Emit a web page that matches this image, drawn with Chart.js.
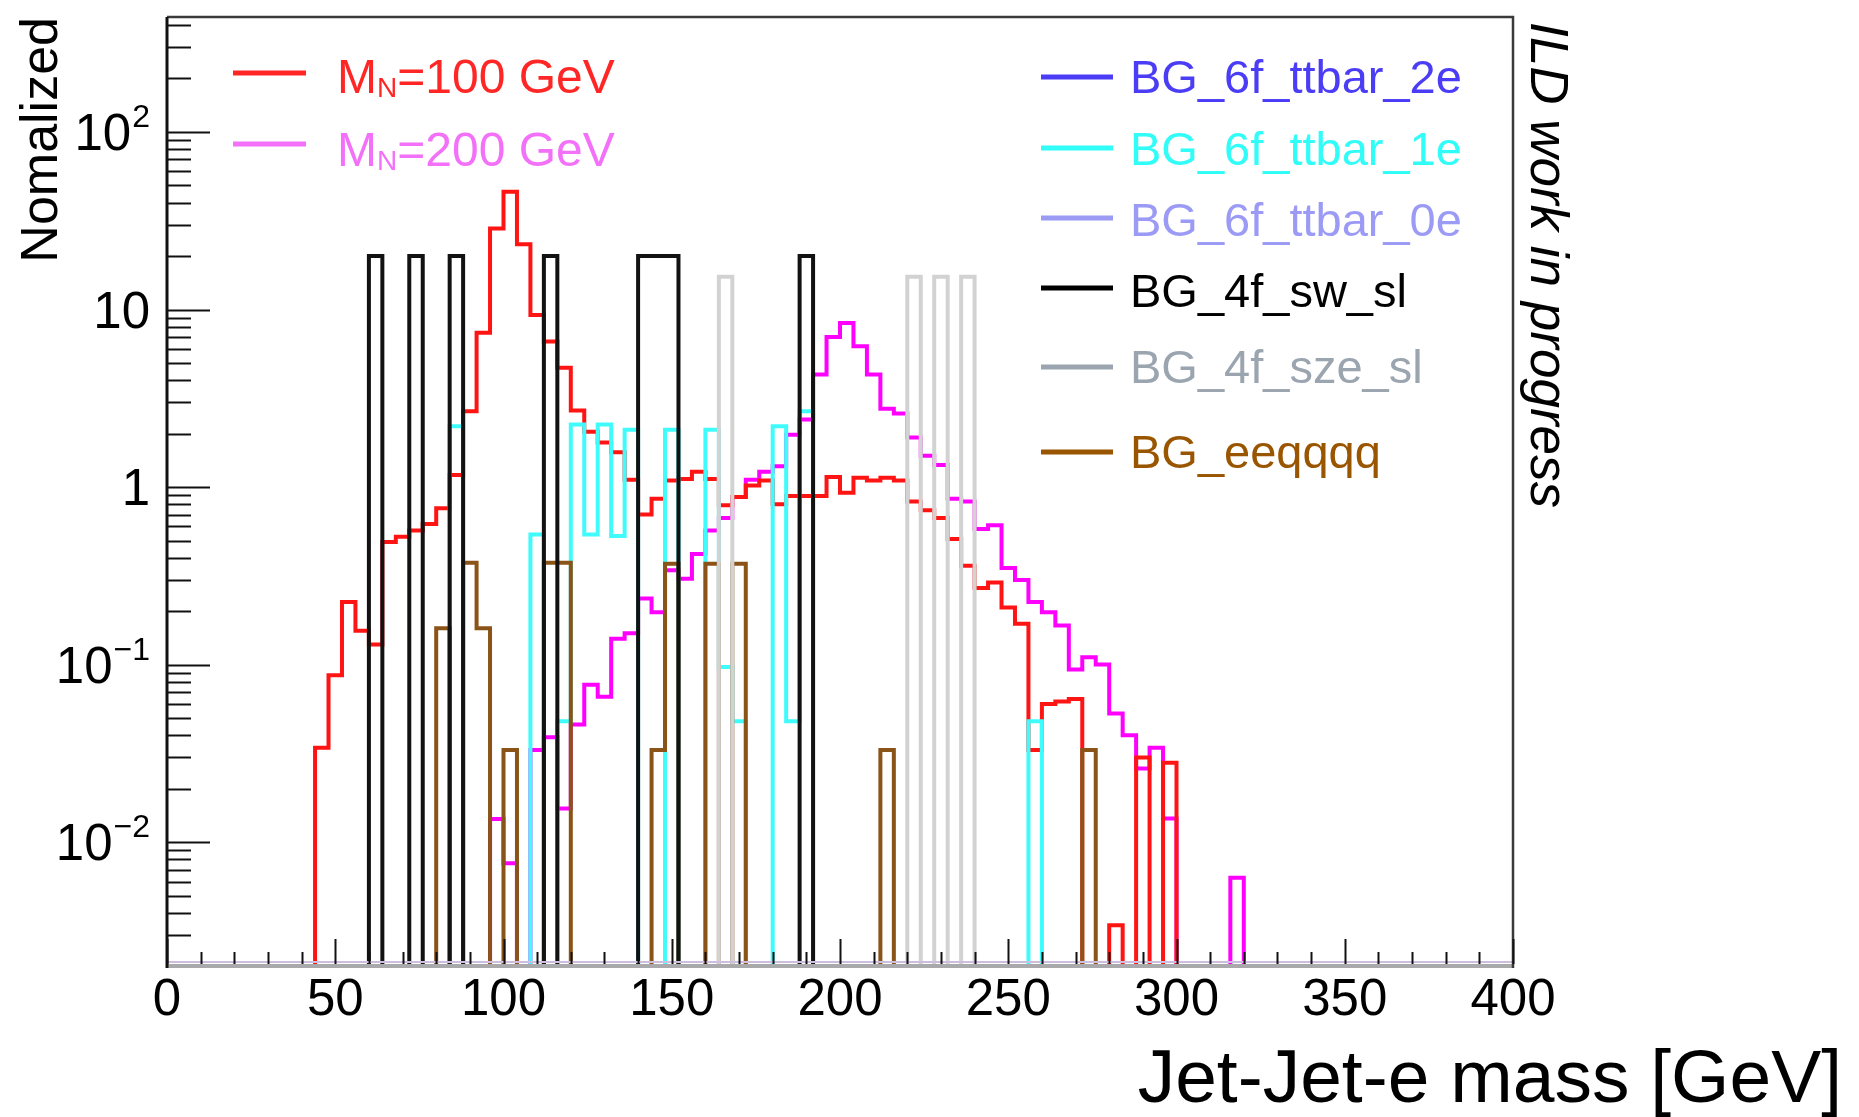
<!DOCTYPE html>
<html>
<head>
<meta charset="utf-8">
<title>Jet-Jet-e mass</title>
<script src="https://cdn.jsdelivr.net/npm/chart.js@4.4.1/dist/chart.umd.min.js"></script>
<style>
  html, body { margin: 0; padding: 0; background: #ffffff; }
  canvas { display: block; }
</style>
</head>
<body>
<canvas id="chart" width="1859" height="1117"></canvas>
<script>
// ---- histogram binning: 100 bins of 4 GeV from 0 to 400 GeV ----
const BIN_WIDTH = 4;
const X_MIN = 0;
const X_MAX = 400;
const Y_MIN = 0.00206;
const Y_MAX = 444;

// axis tick labels
const xTickValues = [0, 50, 100, 150, 200, 250, 300, 350, 400];
const xTickLabels = ['0', '50', '100', '150', '200', '250', '300', '350', '400'];
const yTickValues = [0.01, 0.1, 1, 10, 100];
const yTickBases = ['10', '10', '1', '10', '10'];
const yTickExponents = ['\u22122', '\u22121', '', '', '2'];

// ---- normalized bin contents, one entry per 4 GeV bin ----
const signal100 = [
  0, 0, 0, 0, 0, 0, 0, 0, 0, 0,
  0, 0.034, 0.087, 0.225, 0.155, 0.13, 0.49, 0.525, 0.57, 0.62,
  0.76, 1.17, 2.67, 7.4, 28.6, 46, 23.3, 9.3, 6.6, 4.7,
  2.7, 2.05, 1.78, 1.57, 1.1, 0.70, 0.86, 1.09, 1.11, 1.22,
  1.11, 0.79, 0.88, 1.02, 1.09, 0.80, 0.89, 0.89, 0.89, 1.14,
  0.93, 1.13, 1.09, 1.13, 1.09, 0.83, 0.74, 0.67, 0.51, 0.36,
  0.27, 0.29, 0.21, 0.17, 0.033, 0.06, 0.062, 0.064, 0, 0,
  0.0034, 0, 0.03, 0, 0.028, 0, 0, 0, 0, 0,
  0, 0, 0, 0, 0, 0, 0, 0, 0, 0,
  0, 0, 0, 0, 0, 0, 0, 0, 0, 0
];
const signal200 = [
  0, 0, 0, 0, 0, 0, 0, 0, 0, 0,
  0, 0, 0, 0, 0, 0, 0, 0, 0, 0,
  0, 0, 0, 0, 0.0135, 0.0076, 0, 0.033, 0.039, 0.0155,
  0.046, 0.077, 0.066, 0.14, 0.15, 0.236, 0.197, 0.34, 0.305, 0.42,
  0.57, 0.67, 0.88, 1.1, 1.22, 1.31, 1.97, 2.4, 4.3, 7.0,
  8.4, 6.2, 4.3, 2.76, 2.6, 1.9, 1.5, 1.33, 0.86, 0.83,
  0.58, 0.61, 0.35, 0.30, 0.225, 0.197, 0.166, 0.094, 0.11, 0.10,
  0.053, 0.040, 0.026, 0.034, 0.0136, 0, 0, 0, 0, 0.0063,
  0, 0, 0, 0, 0, 0, 0, 0, 0, 0,
  0, 0, 0, 0, 0, 0, 0, 0, 0, 0
];
const ttbar2e = [];
const ttbar1e = [
  0, 0, 0, 0, 0, 0, 0, 0, 0, 0,
  0, 0, 0, 0, 0, 0, 0, 0, 0, 0,
  0, 2.2, 0, 0, 0, 0, 0, 0.54, 0, 0.048,
  2.25, 0.54, 2.25, 0.53, 2.1, 0, 0, 2.1, 0, 0,
  2.1, 0.097, 0.048, 0, 0, 2.2, 0.048, 2.67, 0, 0,
  0, 0, 0, 0, 0, 0, 0, 0, 0, 0,
  0, 0, 0, 0, 0.048, 0, 0, 0, 0, 0,
  0, 0, 0, 0, 0, 0, 0, 0, 0, 0,
  0, 0, 0, 0, 0, 0, 0, 0, 0, 0,
  0, 0, 0, 0, 0, 0, 0, 0, 0, 0
];
const ttbar0e = [];
const swSl = [
  0, 0, 0, 0, 0, 0, 0, 0, 0, 0,
  0, 0, 0, 0, 0, 20, 0, 0, 20, 0,
  0, 20, 0, 0, 0, 0, 0, 0, 20, 0,
  0, 0, 0, 0, 0, 20, 20, 20, 0, 0,
  0, 0, 0, 0, 0, 0, 0, 20, 0, 0,
  0, 0, 0, 0, 0, 0, 0, 0, 0, 0,
  0, 0, 0, 0, 0, 0, 0, 0, 0, 0,
  0, 0, 0, 0, 0, 0, 0, 0, 0, 0,
  0, 0, 0, 0, 0, 0, 0, 0, 0, 0,
  0, 0, 0, 0, 0, 0, 0, 0, 0, 0
];
const szeSl = [
  0, 0, 0, 0, 0, 0, 0, 0, 0, 0,
  0, 0, 0, 0, 0, 0, 0, 0, 0, 0,
  0, 0, 0, 0, 0, 0, 0, 0, 0, 0,
  0, 0, 0, 0, 0, 0, 0, 0, 0, 0,
  0, 15.3, 0, 0, 0, 0, 0, 0, 0, 0,
  0, 0, 0, 0, 0, 15.3, 0, 15.3, 0, 15.3,
  0, 0, 0, 0, 0, 0, 0, 0, 0, 0,
  0, 0, 0, 0, 0, 0, 0, 0, 0, 0,
  0, 0, 0, 0, 0, 0, 0, 0, 0, 0,
  0, 0, 0, 0, 0, 0, 0, 0, 0, 0
];
const eeqqqq = [
  0, 0, 0, 0, 0, 0, 0, 0, 0, 0,
  0, 0, 0, 0, 0, 0, 0, 0, 0, 0,
  0.16, 0, 0.375, 0.16, 0, 0.033, 0, 0, 0.375, 0.375,
  0, 0, 0, 0, 0, 0, 0.033, 0.37, 0, 0,
  0.37, 0, 0.37, 0, 0, 0, 0, 0, 0, 0,
  0, 0, 0, 0.033, 0, 0, 0, 0, 0, 0,
  0, 0, 0, 0, 0, 0, 0, 0, 0.033, 0,
  0, 0, 0, 0, 0, 0, 0, 0, 0, 0,
  0, 0, 0, 0, 0, 0, 0, 0, 0, 0,
  0, 0, 0, 0, 0, 0, 0, 0, 0, 0
];

// Empty bins sit below the visible log range, so their outline runs off the frame.
const EMPTY_LEVEL = 1e-4;

function outline(values) {
  if (!values.length) return [];
  const pts = values.map((v, i) => ({ x: X_MIN + i * BIN_WIDTH, y: v > 0 ? v : EMPTY_LEVEL }));
  pts.push({ x: X_MIN + values.length * BIN_WIDTH, y: EMPTY_LEVEL });
  return pts;
}

// line colour, legend colour, drawing weight (higher is drawn first)
const series = [
  { label: 'MN=100 GeV',      values: signal100, color: '#ff1414', key: '#ff2626', order: 5 },
  { label: 'MN=200 GeV',      values: signal200, color: '#ff00ff', key: '#f371f8', order: 6 },
  { label: 'BG_6f_ttbar_2e',  values: ttbar2e,   color: '#4b3cf5', key: '#4b3cf5', order: 7 },
  { label: 'BG_6f_ttbar_1e',  values: ttbar1e,   color: '#40fbfb', key: '#30fcf8', order: 4 },
  { label: 'BG_6f_ttbar_0e',  values: ttbar0e,   color: '#9b9bf6', key: '#9b9bf6', order: 8 },
  { label: 'BG_4f_sw_sl',     values: swSl,      color: '#121212', key: '#000000', order: 1 },
  { label: 'BG_4f_sze_sl',    values: szeSl,     color: '#d2d2d2', key: '#9ba5b0', order: 2 },
  { label: 'BG_eeqqqq',       values: eeqqqq,    color: '#8a5318', key: '#9a5500', order: 3 }
];

// legend placement: [line start x, line end x, text x, line y, text baseline]
const legendSlots = [
  [233, 306, 337, 73, 93],
  [233, 306, 337, 144, 166],
  [1041, 1113, 1130, 77, 93],
  [1041, 1113, 1130, 148, 165],
  [1041, 1113, 1130, 218, 236],
  [1041, 1113, 1130, 288, 307],
  [1041, 1113, 1130, 367, 383],
  [1041, 1113, 1130, 452, 468]
];

const FONT = '"Liberation Sans", Arial, Helvetica, sans-serif';

function drawLegendLabel(ctx, text, x, y, color) {
  ctx.fillStyle = color;
  ctx.textAlign = 'left';
  ctx.textBaseline = 'alphabetic';
  if (text.startsWith('MN')) {
    ctx.font = '48px ' + FONT;
    ctx.fillText('M', x, y);
    let cx = x + ctx.measureText('M').width;
    ctx.font = '28px ' + FONT;
    ctx.fillText('N', cx, y + 4);
    cx += ctx.measureText('N').width;
    ctx.font = '48px ' + FONT;
    ctx.fillText(text.slice(2), cx, y);
  } else {
    ctx.font = '47px ' + FONT;
    ctx.fillText(text, x, y);
  }
}

const frameAndText = {
  id: 'frameAndText',
  afterDatasetsDraw(chart) {
    const { ctx, chartArea: a } = chart;
    const xs = chart.scales.x;
    const ys = chart.scales.y;
    ctx.save();

    // bottom axis band
    ctx.lineCap = 'butt';
    ctx.strokeStyle = '#cdbddf';
    ctx.lineWidth = 2;
    ctx.beginPath(); ctx.moveTo(a.left, a.bottom - 2); ctx.lineTo(a.right, a.bottom - 2); ctx.stroke();
    ctx.strokeStyle = '#a9a9ab';
    ctx.lineWidth = 4;
    ctx.beginPath(); ctx.moveTo(a.left, a.bottom + 2); ctx.lineTo(a.right, a.bottom + 2); ctx.stroke();

    // frame: top and right edges, left axis
    ctx.strokeStyle = '#3a3a3a';
    ctx.lineWidth = 2.5;
    ctx.beginPath(); ctx.moveTo(a.left, a.top); ctx.lineTo(a.right, a.top); ctx.lineTo(a.right, a.bottom + 4); ctx.stroke();
    ctx.strokeStyle = '#111111';
    ctx.lineWidth = 3;
    ctx.beginPath(); ctx.moveTo(a.left, a.top); ctx.lineTo(a.left, a.bottom + 4); ctx.stroke();

    // x ticks, pointing up into the frame
    ctx.strokeStyle = '#111111';
    ctx.lineWidth = 2;
    for (let v = X_MIN; v <= X_MAX; v += 10) {
      const px = Math.round(xs.getPixelForValue(v)) + 0.5;
      const len = v % 50 === 0 ? 25 : 12;
      ctx.beginPath(); ctx.moveTo(px, a.bottom); ctx.lineTo(px, a.bottom - len); ctx.stroke();
    }

    // y ticks on the log axis, pointing right into the frame
    for (let e = -3; e <= 2; e++) {
      for (let m = 1; m <= 9; m++) {
        const v = m * Math.pow(10, e);
        if (v < Y_MIN || v > Y_MAX) continue;
        const py = Math.round(ys.getPixelForValue(v)) + 0.5;
        const len = m === 1 ? 43 : 24;
        ctx.beginPath(); ctx.moveTo(a.left, py); ctx.lineTo(a.left + len, py); ctx.stroke();
      }
    }

    // x tick labels
    ctx.fillStyle = '#000000';
    ctx.font = '51px ' + FONT;
    ctx.textAlign = 'center';
    ctx.textBaseline = 'alphabetic';
    xTickValues.forEach((v, i) => {
      ctx.fillText(xTickLabels[i], xs.getPixelForValue(v), 1015);
    });

    // y tick labels with powers of ten
    const labelRight = 150;
    yTickValues.forEach((v, i) => {
      const py = ys.getPixelForValue(v);
      const exp = yTickExponents[i];
      ctx.font = '32px ' + FONT;
      const expW = exp ? ctx.measureText(exp).width : 0;
      if (exp) {
        ctx.textAlign = 'right';
        ctx.fillText(exp, labelRight, py - 5);
      }
      ctx.font = '51px ' + FONT;
      ctx.textAlign = 'right';
      ctx.fillText(yTickBases[i], labelRight - expW - (exp ? 1 : 0), py + 18);
    });

    // axis titles
    ctx.font = '75px ' + FONT;
    ctx.textAlign = 'right';
    ctx.fillText('Jet-Jet-e mass [GeV]', 1842, 1102);

    ctx.save();
    ctx.translate(57, 17);
    ctx.rotate(-Math.PI / 2);
    ctx.font = '52px ' + FONT;
    ctx.textAlign = 'right';
    ctx.fillText('Nomalized', 0, 0);
    ctx.restore();

    ctx.save();
    ctx.translate(1531, 22);
    ctx.rotate(Math.PI / 2);
    ctx.font = 'italic 53px ' + FONT;
    ctx.textAlign = 'left';
    ctx.fillText('ILD work in progress', 0, 0);
    ctx.restore();

    // legend entries
    chart.data.datasets.forEach((ds, i) => {
      const [x1, x2, tx, ly, ty] = legendSlots[i];
      ctx.strokeStyle = ds.keyColor;
      ctx.lineWidth = 5;
      ctx.beginPath(); ctx.moveTo(x1, ly); ctx.lineTo(x2, ly); ctx.stroke();
      drawLegendLabel(ctx, ds.label, tx, ty, ds.keyColor);
    });

    ctx.restore();
  }
};

new Chart(document.getElementById('chart'), {
  type: 'line',
  data: {
    datasets: series.map(s => ({
      label: s.label,
      data: outline(s.values),
      borderColor: s.color,
      keyColor: s.key,
      borderWidth: 4,
      stepped: 'before',
      tension: 0,
      pointRadius: 0,
      fill: false,
      clip: 0,
      order: s.order,
      borderJoinStyle: 'miter',
      borderCapStyle: 'butt'
    }))
  },
  options: {
    responsive: false,
    maintainAspectRatio: false,
    devicePixelRatio: 1,
    animation: false,
    events: [],
    layout: { padding: { left: 167, right: 346, top: 17, bottom: 153 } },
    plugins: { legend: { display: false }, tooltip: { enabled: false } },
    scales: {
      x: { type: 'linear', min: X_MIN, max: X_MAX, display: false },
      y: { type: 'logarithmic', min: Y_MIN, max: Y_MAX, display: false }
    }
  },
  plugins: [frameAndText]
});
</script>
</body>
</html>
